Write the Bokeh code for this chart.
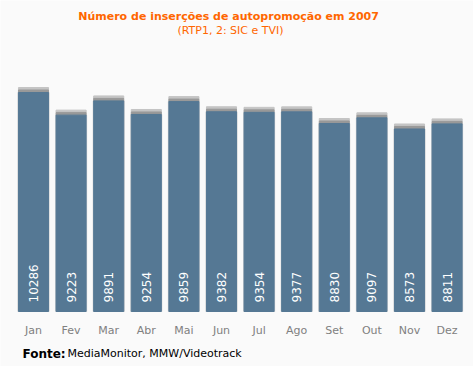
import math
from bokeh.plotting import figure
from bokeh.models import ColumnDataSource, Label, Range1d
from bokeh.core.properties import value
from bokeh.embed import file_html
from bokeh.resources import INLINE

months = ["Jan", "Fev", "Mar", "Abr", "Mai", "Jun", "Jul", "Ago", "Set", "Out", "Nov", "Dez"]
counts = [10286, 9223, 9891, 9254, 9859, 9382, 9354, 9377, 8830, 9097, 8573, 8811]
title_text = "Número de inserções de autopromoção  em 2007"
subtitle_text = "(RTP1, 2: SIC e TVI)"
source_bold = "Fonte:"
source_text = "MediaMonitor, MMW/Videotrack"

BG = "#fafafa"
BAR = "#557894"
ORANGE = "#ff6600"

W, H = 473, 366
BASE_Y = 311          # pixel row of the bars' baseline (from top)
STEP = 37.6           # pixels between category centres
FIRST_X = 33          # pixel column of first category centre
UPX = 10286 / 219.0   # data units per pixel vertically

x_idx = list(range(len(months)))
p = figure(width=W, height=H,
           x_range=Range1d(-FIRST_X / STEP, -FIRST_X / STEP + W / STEP),
           y_range=Range1d(-(H - BASE_Y) * UPX, BASE_Y * UPX),
           output_backend="svg", toolbar_location=None,
           min_border=0, background_fill_color=BG, border_fill_color=BG,
           outline_line_color=None)
p.title.visible = False
p.grid.visible = False
p.axis.visible = False

caps1 = [c + 2.5 * UPX for c in counts]
caps2 = [c + 5 * UPX for c in counts]
src = ColumnDataSource(dict(x=x_idx, m=months, v=counts, c1=caps1, c2=caps2,
                            lbl=[str(c) for c in counts]))

# soft side shadow
p.vbar(x="x", top="v", bottom=0, width=0.83, source=src, color="#dadada")
# gray top caps
p.vbar(x="x", top="c2", bottom="c1", width=0.8, source=src, color="#c4c4c4")
p.vbar(x="x", top="c1", bottom="v", width=0.8, source=src, color="#999999")
# bars
p.vbar(x="x", top="v", bottom=0, width=0.8, source=src, color=BAR)

# value labels inside bars
p.text(x="x", y=0, text="lbl", source=src, angle=math.pi / 2, y_offset=-9,
       text_align="left", text_baseline="middle", text_color="white",
       text_font=value("DejaVu Sans"), text_font_size="12px")

# month labels
p.text(x="x", y=0, text="m", source=src, y_offset=19,
       text_align="center", text_baseline="middle", text_color="#808080",
       text_font=value("DejaVu Sans"), text_font_size="11px")

p.add_layout(Label(x=230, y=H - 16, x_units="screen", y_units="screen", text=title_text,
                   text_align="center", text_baseline="middle", text_color=ORANGE,
                   text_font="DejaVu Sans", text_font_style="bold", text_font_size="11px"))
p.add_layout(Label(x=230, y=H - 30, x_units="screen", y_units="screen", text=subtitle_text,
                   text_align="center", text_baseline="middle", text_color=ORANGE,
                   text_font="DejaVu Sans", text_font_size="11px"))
p.add_layout(Label(x=22, y=H - 353, x_units="screen", y_units="screen", text=source_bold,
                   text_align="left", text_baseline="middle", text_color="black",
                   text_font="DejaVu Sans", text_font_style="bold", text_font_size="12px"))
p.add_layout(Label(x=67, y=H - 353, x_units="screen", y_units="screen", text=source_text,
                   text_align="left", text_baseline="middle", text_color="black",
                   text_font="DejaVu Sans", text_font_size="11px"))

open("out.html", "w").write(file_html(p, INLINE))
